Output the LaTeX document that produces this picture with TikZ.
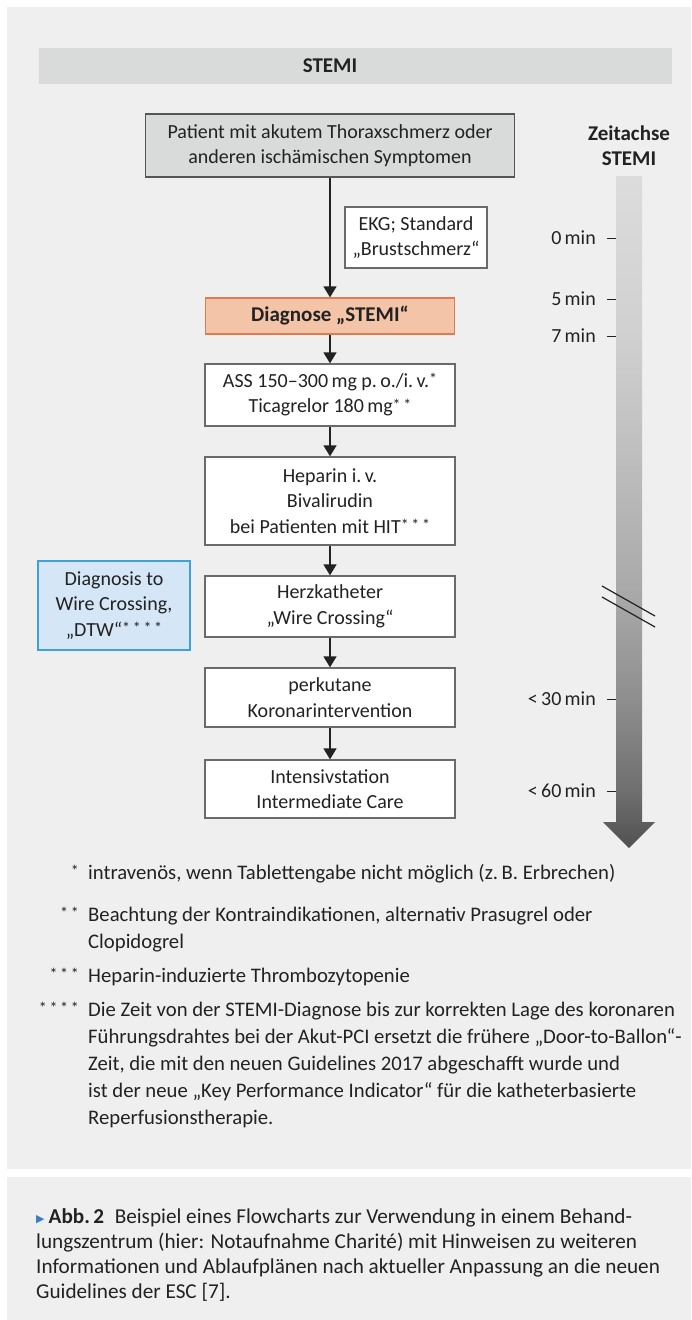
\documentclass[tikz,border=0pt]{standalone}
\usepackage{fontspec}
\setmainfont{Carlito}
\newfontfamily\dejavu{DejaVu Sans}
\usetikzlibrary{arrows.meta}
\definecolor{panel}{HTML}{EFEFEF}
\definecolor{hdr}{HTML}{D9DADA}
\definecolor{txt}{HTML}{222222}
\definecolor{boxline}{HTML}{6A6A6A}
\definecolor{patline}{HTML}{555555}
\definecolor{patfill}{HTML}{D9DBDA}
\definecolor{diagfill}{HTML}{F4C4A8}
\definecolor{diagline}{HTML}{E07A52}
\definecolor{bluefill}{HTML}{D5E7F7}
\definecolor{blueline}{HTML}{3DA2DB}
\definecolor{capblue}{HTML}{3C7FC0}
\definecolor{z1}{HTML}{505050}
\definecolor{z2}{HTML}{6E6E6E}
\definecolor{z3}{HTML}{8E8E8E}
\definecolor{z4}{HTML}{A8A8A8}
\definecolor{z5}{HTML}{D0D0D0}
\definecolor{z6}{HTML}{DCDCDC}
\pgfdeclareverticalshading{zeitshade}{100bp}{color(0bp)=(z1); color(25bp)=(z1); color(29bp)=(z2); color(36bp)=(z3); color(43.5bp)=(z4); color(63bp)=(z5); color(75bp)=(z6); color(100bp)=(z6)}
\newcommand\bodysize{\fontsize{20}{25.5}\selectfont}
\newcommand\boldsize{\fontsize{21}{25.5}\selectfont\bfseries}
\newcommand\fnsize{\fontsize{20.7}{27}\selectfont}
\newcommand\capsize{\fontsize{21.2}{25}\selectfont}
\newcommand\stars[1]{\raisebox{2.5pt}{\fontsize{16}{16}\selectfont #1}}
\begin{document}
\begin{tikzpicture}[x=1pt,y=-1pt,
  box/.style={draw=boxline, line width=1.3pt, fill=white, align=center, inner sep=0pt, font=\bodysize, text=txt},
  flow/.style={draw=txt, line width=1.5pt, -{Triangle[width=13pt,length=11pt]}},
  lbl/.style={font=\bodysize, text=txt, inner sep=0pt},
  tickline/.style={draw=txt, line width=1pt},
  fnstar/.style={font=\fnsize, text=txt, inner sep=0pt, anchor=base east},
  fntext/.style={font=\fnsize, text=txt, inner sep=0pt, anchor=base west, align=left}]
\useasboundingbox (0,0) rectangle (691,1320);
\fill[white] (0,0) rectangle (691,1320);
\fill[panel] (7,7) rectangle (691,1169);
\fill[panel] (7,1177) rectangle (691,1320);
% header bar
\fill[hdr] (39,48) rectangle (672,84);
\node[lbl, font=\boldsize] (hdrtext) at (330,66) {STEMI};
% flow boxes
\node[box, fill=patfill, draw=patline, minimum width=369pt, minimum height=63pt] (pat) at (330,145.5) {Patient mit akutem Thoraxschmerz oder\\anderen ischämischen Symptomen};
\node[box, minimum width=142pt, minimum height=61pt] (ekg) at (416,237.5) {EKG; Standard\\„Brustschmerz“};
\node[box, fill=diagfill, draw=diagline, minimum width=249pt, minimum height=36pt, font=\boldsize] (diag) at (330,316) {Diagnose „STEMI“};
\node[box, minimum width=250pt, minimum height=62pt] (ass) at (330,395) {ASS 150–300\,mg p.\,o./i.\,v.\stars{*}\\Ticagrelor 180\,mg\stars{*\,*}};
\node[box, minimum width=250pt, minimum height=88pt] (hep) at (330,501) {Heparin i.\,v.\\Bivalirudin\\bei Patienten mit HIT\stars{*\,*\,*}};
\node[box, minimum width=250pt, minimum height=61pt] (herz) at (330,606.5) {Herzkatheter\\„Wire Crossing“};
\node[box, fill=bluefill, draw=blueline, minimum width=152pt, minimum height=89pt] (dtw) at (114,605.5) {Diagnosis to\\Wire Crossing,\\„DTW“\stars{*\,*\,*\,*}};
\node[box, minimum width=250pt, minimum height=59pt] (pci) at (330,697.5) {perkutane\\Koronarintervention};
\node[box, minimum width=250pt, minimum height=58pt] (icu) at (330,789) {Intensivstation\\Intermediate Care};
\draw[flow] (pat.south) -- (diag.north);
\draw[flow] (diag.south) -- (ass.north);
\draw[flow] (ass.south) -- (hep.north);
\draw[flow] (hep.south) -- (herz.north);
\draw[flow] (herz.south) -- (pci.north);
\draw[flow] (pci.south) -- (icu.north);
% time axis
\node[lbl, font=\boldsize, align=center] (zt) at (629,145.5) {Zeitachse\\STEMI};
\shade[shading=zeitshade] (616,176) -- (642,176) -- (642,822) -- (655,822) -- (629,848) -- (603,822) -- (616,822) -- cycle;
\draw[txt, line width=1.2pt] (602,586) -- (655,616);
\draw[txt, line width=1.2pt] (602,597) -- (655,627);
\node[lbl, anchor=east] (t0) at (596,238) {0\,min};
\node[lbl, anchor=east] (t5) at (596,299) {5\,min};
\node[lbl, anchor=east] (t7) at (596,336) {7\,min};
\node[lbl, anchor=east] (t30) at (596,699) {<\,30\,min};
\node[lbl, anchor=east] (t60) at (596,791) {<\,60\,min};
\foreach \yy in {238,299,336,699,791} \draw[tickline] (607,\yy) -- (616,\yy);
% footnotes (base anchor = baseline of last line)
\node[fnstar] (s1) at (79,879) {\stars{*}};
\node[fntext] (f1) at (88,879) {intravenös, wenn Tablettengabe nicht möglich (z.\,B. Erbrechen)};
\node[fnstar] (s2) at (79,921) {\stars{*\,*}};
\node[fntext] (f2) at (88,948) {Beachtung der Kontraindikationen, alternativ Prasugrel oder\\Clopidogrel};
\node[fnstar] (s3) at (79,982) {\stars{*\,*\,*}};
\node[fntext] (f3) at (88,982) {Heparin-induzierte Thrombozytopenie};
\node[fnstar] (s4) at (79,1016) {\stars{*\,*\,*\,*}};
\node[fntext] (f4) at (88,1124) {Die Zeit von der STEMI-Diagnose bis zur korrekten Lage des koronaren\\Führungsdrahtes bei der Akut-PCI ersetzt die frühere „Door-to-Ballon“-\\Zeit, die mit den neuen Guidelines 2017 abgeschafft wurde und\\ist der neue „Key Performance Indicator“ für die katheterbasierte\\Reperfusionstherapie.};
% caption
\node[font=\capsize, text=txt, inner sep=0pt, anchor=base west, align=left] (cap) at (36,1298) {{\dejavu\fontsize{11}{11}\selectfont\color{capblue}\raisebox{0.5pt}{▶}}\hspace{4pt}\textbf{Abb.\,2}\enspace Beispiel eines Flowcharts zur Verwendung in einem Behand-\\lungszentrum (hier: Notaufnahme Charité) mit Hinweisen zu weiteren\\Informationen und Ablaufplänen nach aktueller Anpassung an die neuen\\Guidelines der ESC [7].};
\end{tikzpicture}
\end{document}
